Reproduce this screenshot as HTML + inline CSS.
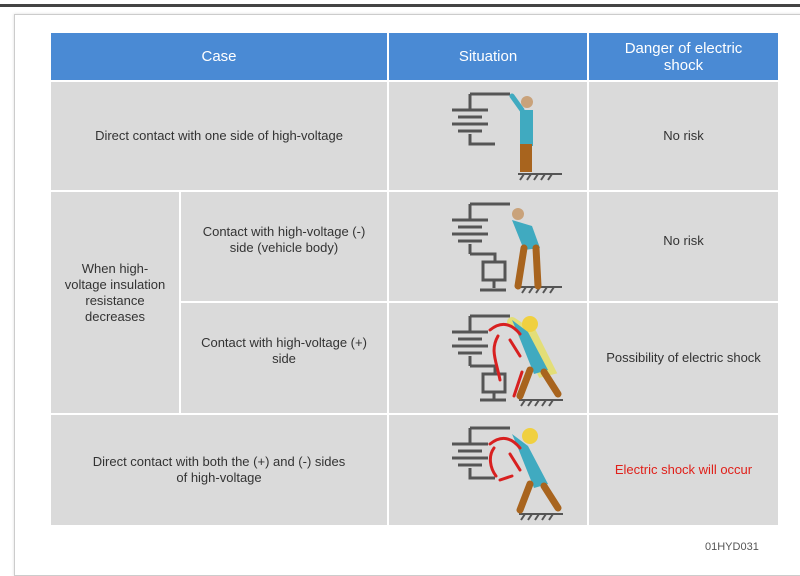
<!DOCTYPE html>
<html><head><style>
body{margin:0;width:800px;height:552px;background:#fff;position:relative;overflow:hidden;font-family:"Liberation Sans",sans-serif;}
.c{position:absolute;display:flex;align-items:center;justify-content:center;text-align:center;color:#333;font-size:13px;line-height:16px;background:#dadada;box-sizing:border-box;}
.h{background:#4a8ad4;color:#fff;font-size:15px;line-height:17px;}
</style></head><body>
<div style="position:absolute;left:0;top:4px;width:800px;height:3px;background:#444"></div>
<div style="position:absolute;left:14px;top:14px;width:800px;height:560px;border:1px solid #ccc;box-shadow:0 0 3px #ddd"></div>
<div class="c h" style="left:51px;top:33px;width:336px;height:47px">Case</div>
<div class="c h" style="left:389px;top:33px;width:198px;height:47px">Situation</div>
<div class="c h" style="left:589px;top:33px;width:189px;height:47px">Danger of electric<br>shock</div>

<div class="c" style="left:51px;top:82px;width:336px;height:108px">Direct contact with one side of high-voltage</div>
<div class="c" style="left:51px;top:192px;width:128px;height:221px;padding-bottom:20px">When high-<br>voltage insulation<br>resistance<br>decreases</div>
<div class="c" style="left:181px;top:192px;width:206px;height:109px;padding-bottom:14px">Contact with high-voltage (-)<br>side (vehicle body)</div>
<div class="c" style="left:181px;top:303px;width:206px;height:110px;padding-bottom:14px">Contact with high-voltage (+)<br>side</div>
<div class="c" style="left:51px;top:415px;width:336px;height:110px">Direct contact with both the (+) and (-) sides<br>of high-voltage</div>

<div class="c" style="left:389px;top:82px;width:198px;height:108px"></div>
<div class="c" style="left:389px;top:192px;width:198px;height:109px"></div>
<div class="c" style="left:389px;top:303px;width:198px;height:110px"></div>
<div class="c" style="left:389px;top:415px;width:198px;height:110px"></div>

<div class="c" style="left:589px;top:82px;width:189px;height:108px">No risk</div>
<div class="c" style="left:589px;top:192px;width:189px;height:109px;padding-bottom:12px">No risk</div>
<div class="c" style="left:589px;top:303px;width:189px;height:110px">Possibility of electric shock</div>
<div class="c" style="left:589px;top:415px;width:189px;height:110px;color:#e0201a">Electric shock will occur</div>

<svg style="position:absolute;left:0;top:0" width="800" height="552">
<g fill="none" stroke="#555" stroke-width="3">
<!-- row1 battery -->
<path d="M470 94h40M470 94v15M470 134v10h25M452 110h36M458 117h24M452 124h36M458 131h24"/>
<!-- row2 -->
<path d="M470 204h40M470 204v15M470 244v10M452 220h36M458 227h24M452 234h36M458 241h24M470 254h25v8M483 262h22v18h-22zM494 280v8M480 290h26"/>
<!-- row3 -->
<path d="M470 316h40M470 316v15M470 356v10M452 332h36M458 339h24M452 346h36M458 353h24M470 366h25v8M483 374h22v18h-22zM494 392v8M480 400h26"/>
<!-- row4 -->
<path d="M470 428h40M470 428v15M470 468v10h25M452 444h36M458 451h24M452 458h36M458 465h24"/>
</g>
<g stroke="#555" stroke-width="2">
<path d="M518 174h44M520 180l4-6M527 180l4-6M534 180l4-6M541 180l4-6M548 180l4-6"/>
<path d="M520 287h42M522 293l4-6M529 293l4-6M536 293l4-6M543 293l4-6M550 293l4-6"/>
<path d="M519 400h44M521 406l4-6M528 406l4-6M535 406l4-6M542 406l4-6M549 406l4-6"/>
<path d="M519 514h44M521 520l4-6M528 520l4-6M535 520l4-6M542 520l4-6M549 520l4-6"/>
</g>
<!-- person row1 -->
<g stroke-linecap="round">
<line x1="512" y1="96" x2="522" y2="110" stroke="#40aac0" stroke-width="5"/>
<circle cx="527" cy="102" r="6" fill="#c9a27a"/>
<rect x="520" y="110" width="13" height="36" fill="#40aac0"/>
<rect x="520" y="144" width="12" height="28" fill="#a8641e"/>
<line x1="528" y1="246" x2="520" y2="226" stroke="#40aac0" stroke-width="5"/>
<circle cx="518" cy="214" r="6" fill="#c9a27a"/>
<path d="M512 220l20 6 8 22-16 2z" fill="#40aac0"/>
<path d="M524 248l-6 38M536 248l2 38" stroke="#a8641e" stroke-width="7"/>
<!-- shocked persons -->
<path d="M512 322l12 8M530 330l20 40-8 2-18-36z" stroke="#e8e050" stroke-width="10" fill="#e8e050" opacity=".7"/>
<circle cx="530" cy="324" r="8" fill="#f0d040"/>
<path d="M512 320l16 12 20 38-14 4-16-40z" fill="#40aac0"/>
<path d="M530 370l-10 26M544 372l14 22" stroke="#a8641e" stroke-width="7"/>
<path d="M490 330c10-8 20-8 30 4M510 340l10 16M522 372l-8 24M500 380c-4-20-10-30-2-44" stroke="#d82020" stroke-width="3" fill="none"/>
<circle cx="530" cy="436" r="8" fill="#f0d040"/>
<path d="M512 434l16 12 20 38-14 4-16-40z" fill="#40aac0"/>
<path d="M530 484l-10 26M544 486l14 22" stroke="#a8641e" stroke-width="7"/>
<path d="M490 444c10-8 20-8 30 4M510 454l10 16M496 476c-6-8-8-20-2-28M512 476l-12 4" stroke="#d82020" stroke-width="3" fill="none"/>
</g>
</svg>
<div style="position:absolute;left:705px;top:541px;font-size:11px;color:#555">01HYD031</div>
</body></html>
